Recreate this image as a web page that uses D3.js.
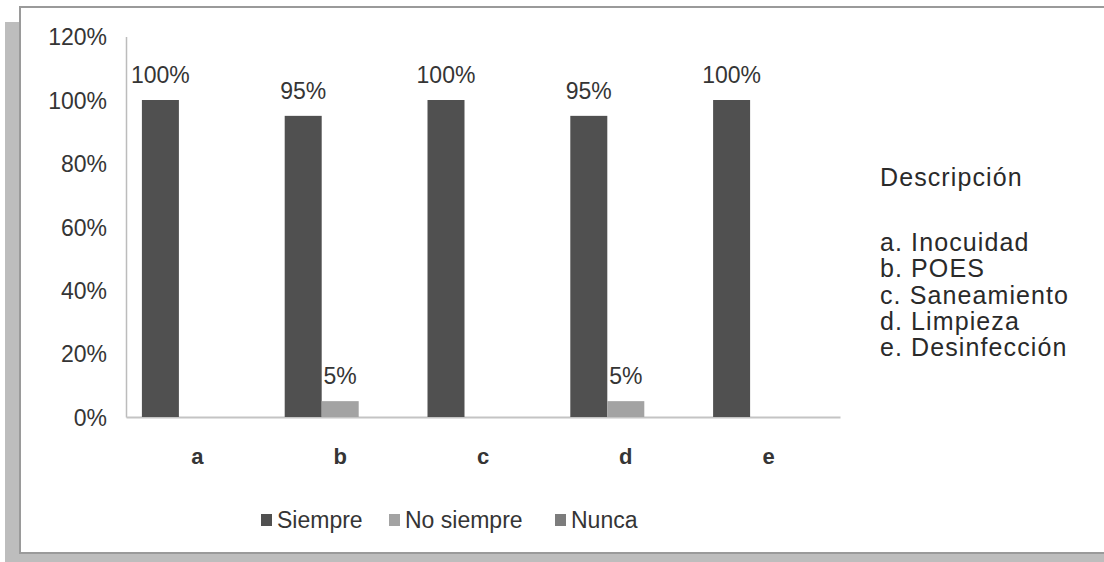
<!DOCTYPE html>
<html>
<head>
<meta charset="utf-8">
<script src="https://cdn.jsdelivr.net/npm/d3@7"></script>
<style>
  html, body { margin: 0; padding: 0; background: #fff; }
  svg { display: block; font-family: "Liberation Sans", Arial, sans-serif; }
</style>
</head>
<body>
<svg id="chart" width="1104" height="562"></svg>
<script>
// Categories and series values (fractions)
const categories = ["a", "b", "c", "d", "e"];
const seriesNames = ["Siempre", "No siempre", "Nunca"];
const siempre = [1.00, 0.95, 1.00, 0.95, 1.00];
const noSiempre = [0, 0.05, 0, 0.05, 0];
const nunca = [0, 0, 0, 0, 0];
const yTicks = [0, 0.2, 0.4, 0.6, 0.8, 1.0, 1.2];
const descriptionTitle = "Descripción";
const descriptionLines = ["a. Inocuidad", "b. POES", "c. Saneamiento", "d. Limpieza", "e. Desinfección"];

const seriesValues = [siempre, noSiempre, nunca];
const seriesColors = ["#505050", "#a3a3a3", "#7c7c7c"];
const textColor = "#353535";

const svg = d3.select("#chart");

// Frame with drop shadow on the left and bottom
svg.append("rect").attr("x", 5).attr("y", 22).attr("width", 1120).attr("height", 560).attr("fill", "#bdbdbd");
svg.append("rect").attr("x", 20).attr("y", 7).attr("width", 1100).attr("height", 546)
  .attr("fill", "#fff").attr("stroke", "#9a9a9a").attr("stroke-width", 2);

const plot = { left: 126, right: 840, top: 36.6, bottom: 417 };

const x = d3.scaleBand().domain(categories).range([plot.left, plot.right]).paddingInner(0).paddingOuter(0);
const groupWidth = 111;
const xs = d3.scaleBand().domain(seriesNames).range([0, groupWidth]);
const y = d3.scaleLinear().domain([0, 1.2]).range([plot.bottom, plot.top]);

// Y axis
const yAxis = d3.axisLeft(y).tickValues(yTicks).tickSize(0).tickPadding(19)
  .tickFormat(d => Math.round(d * 100) + "%");
const gy = svg.append("g").attr("transform", `translate(${plot.left},0)`).call(yAxis);
gy.select(".domain").attr("stroke", "#bcbcbc").attr("stroke-width", 1.5);
gy.selectAll("text").attr("font-size", 23).attr("fill", textColor).attr("dy", "0.36em");

// X axis
const xAxis = d3.axisBottom(x).tickSize(0).tickPadding(31);
const gx = svg.append("g").attr("transform", `translate(0,${plot.bottom})`).call(xAxis);
gx.select(".domain").attr("stroke", "#c4c4c4").attr("stroke-width", 2);
gx.selectAll("text").attr("font-size", 22).attr("font-weight", "bold").attr("fill", textColor);

// Bars with value labels
seriesNames.forEach((name, si) => {
  const vals = seriesValues[si];
  const g = svg.append("g");
  categories.forEach((c, i) => {
    const v = vals[i];
    if (v <= 0) return;
    const x0 = x(c) + (x.bandwidth() - groupWidth) / 2 + xs(name);
    g.append("rect")
      .attr("x", x0).attr("y", y(v))
      .attr("width", xs.bandwidth()).attr("height", y(0) - y(v))
      .attr("fill", seriesColors[si]);
    g.append("text")
      .attr("x", x0 + xs.bandwidth() / 2)
      .attr("y", y(v) - 17)
      .attr("text-anchor", "middle")
      .attr("font-size", 23).attr("fill", textColor)
      .text(Math.round(v * 100) + "%");
  });
});

// Legend
const legendX = [261, 389, 555];
const legend = svg.append("g");
seriesNames.forEach((name, i) => {
  legend.append("rect").attr("x", legendX[i]).attr("y", 514).attr("width", 11).attr("height", 12)
    .attr("fill", seriesColors[i]);
  legend.append("text").attr("x", legendX[i] + 16).attr("y", 528)
    .attr("font-size", 23).attr("fill", textColor).text(name);
});

// Description block
const desc = svg.append("g").attr("font-size", 25).attr("letter-spacing", 1.1).attr("fill", "#2a2a2a");
desc.append("text").attr("x", 880).attr("y", 186).text(descriptionTitle);
descriptionLines.forEach((t, i) => {
  desc.append("text").attr("x", 880).attr("y", 251 + i * 26.3).text(t);
});
</script>
</body>
</html>
